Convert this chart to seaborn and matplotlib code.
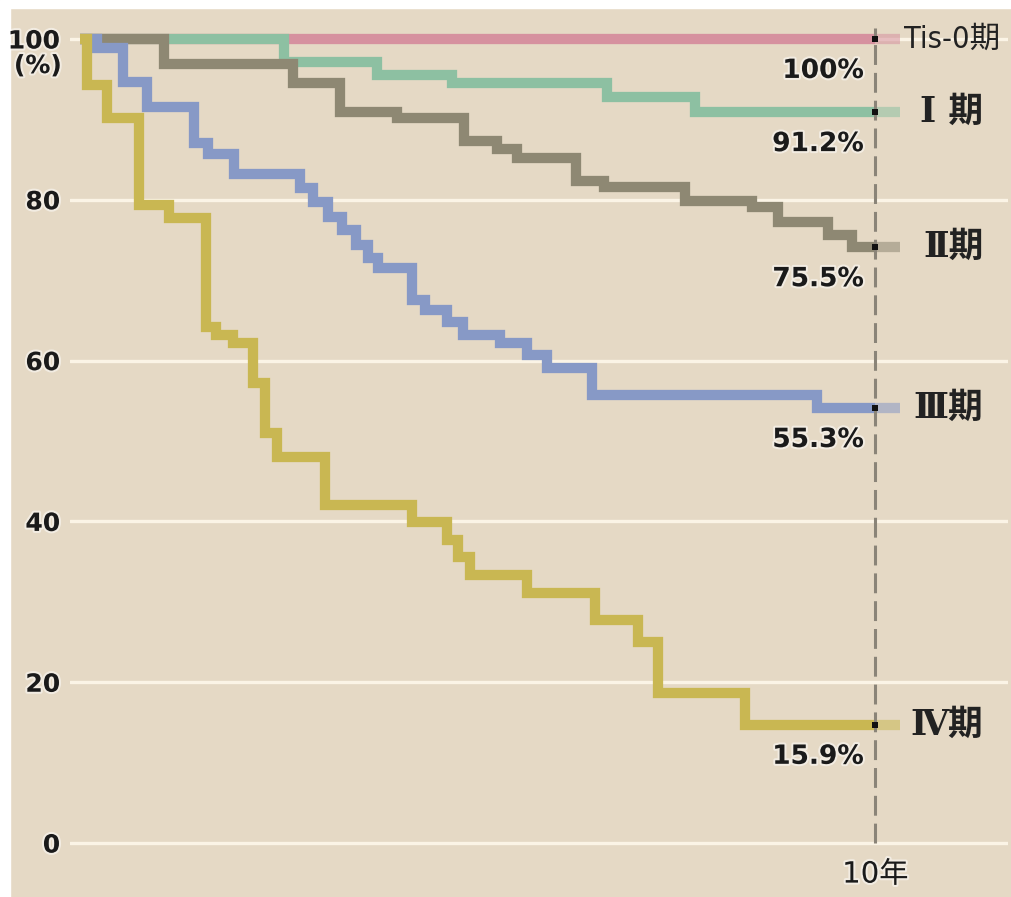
import pandas as pd
import matplotlib.pyplot as plt
import matplotlib.patheffects as pe
from matplotlib.patches import Rectangle
import seaborn as sns

# step survival curves: year of each drop, survival (%) after it
stages = ["Tis-0期", "Ⅰ 期", "Ⅱ期", "Ⅲ期", "Ⅳ期"]
pct_labels = ["100%", "91.2%", "75.5%", "55.3%", "15.9%"]

tis0_t = [0.0]
tis0_v = [100.0]
st1_t = [0.0, 2.57, 3.74, 4.68, 6.63, 7.74]
st1_v = [100.0, 97.1, 95.5, 94.5, 92.8, 90.9]
st2_t = [0.0, 1.06, 2.68, 3.27, 3.99, 4.83, 5.25, 5.50, 6.24, 6.59, 7.61, 8.45, 8.78, 9.41, 9.71]
st2_v = [100.0, 96.9, 94.5, 90.9, 90.2, 87.3, 86.3, 85.2, 82.3, 81.6, 79.9, 79.1, 77.2, 75.6, 74.1]
st3_t = [0.0, 0.21, 0.54, 0.84, 1.43, 1.61, 1.94, 2.77, 2.93, 3.12, 3.30, 3.47, 3.62, 3.75,
         4.18, 4.34, 4.62, 4.81, 5.28, 5.62, 5.87, 6.44, 9.27]
st3_v = [100.0, 98.9, 94.7, 91.5, 87.1, 85.7, 83.2, 81.5, 79.7, 77.9, 76.2, 74.4, 72.8, 71.5,
         67.5, 66.3, 64.8, 63.2, 62.2, 60.7, 59.1, 55.7, 54.1]
st4_t = [0.0, 0.09, 0.34, 0.74, 1.12, 1.58, 1.71, 1.92, 2.18, 2.33, 2.48, 3.08, 4.18,
         4.62, 4.75, 4.91, 5.62, 6.48, 7.02, 7.27, 8.36]
st4_v = [100.0, 94.3, 90.2, 79.4, 77.7, 64.2, 63.2, 62.2, 57.2, 51.0, 48.0, 42.0, 39.9,
         37.7, 35.6, 33.3, 31.1, 27.7, 25.0, 18.7, 14.7]

times = [tis0_t, st1_t, st2_t, st3_t, st4_t]
values = [tis0_v, st1_v, st2_v, st3_v, st4_v]
colors = ["#D6919F", "#8DC0A2", "#8E8873", "#8799C6", "#C9B752"]
t_mark = 10.0
t_end = 10.31

rows, tails, ends = [], [], []
for name, ts, vs in zip(stages, times, values):
    for t, v in zip(ts + [t_mark], vs + [vs[-1]]):
        rows.append({"t": t, "v": v, "stage": name})
    tails.append({"t": t_mark, "v": vs[-1], "stage": name})
    tails.append({"t": t_end, "v": vs[-1], "stage": name})
    ends.append({"t": t_mark, "v": vs[-1], "stage": name})
df = pd.DataFrame(rows)
df_tail = pd.DataFrame(tails)
df_end = pd.DataFrame(ends)

sns.set_style("white")
plt.rcParams['font.family'] = ['DejaVu Sans', 'Noto Sans CJK JP']

bg = "#E5D9C5"
ink = "#1a1a1a"
fig = plt.figure(figsize=(10.12, 8.97), dpi=100, facecolor=bg)
fig.add_artist(Rectangle((0, 1 - 8 / 897), 1, 8 / 897, transform=fig.transFigure, color="white", zorder=0))
fig.add_artist(Rectangle((0, 0), 10 / 1012, 1, transform=fig.transFigure, color="white", zorder=0))
ax = fig.add_axes([70 / 1012, 42 / 897, 938 / 1012, 835 / 897])
ax.set_facecolor(bg)
for s in ax.spines.values():
    s.set_visible(False)

pal = dict(zip(stages, colors))
sns.lineplot(data=df, x="t", y="v", hue="stage", hue_order=stages, palette=pal,
             drawstyle="steps-post", linewidth=7.4, estimator=None, sort=False,
             legend=False, ax=ax, solid_joinstyle="miter", solid_capstyle="butt")
sns.lineplot(data=df_tail, x="t", y="v", hue="stage", hue_order=stages, palette=pal,
             linewidth=7.4, alpha=0.55, estimator=None, sort=False, legend=False, ax=ax,
             solid_capstyle="butt")

ax.axvline(t_mark, ymin=0.014, ymax=0.99, color="#8A8478", lw=2.2, dashes=(6.5, 2.6), zorder=4)
sns.scatterplot(data=df_end, x="t", y="v", marker="s", s=22, color="#111111",
                edgecolor="none", ax=ax, zorder=6, legend=False)

ax.set_xlim(-0.126, 11.67)
ax.set_ylim(-1.49, 102.36)
ax.set_yticks([0, 20, 40, 60, 80, 100], ["0", "20", "40", "60", "80", "100"])
ax.set_xticks([t_mark], ["10年"])
ax.grid(axis="y", color="#FBF4E6", lw=2.4, zorder=0)
ax.grid(axis="x", visible=False)
ax.set_axisbelow(True)
ax.tick_params(axis="y", length=0, pad=7, labelsize=18)
ax.tick_params(axis="x", length=0, pad=4, labelsize=21)
halo = [pe.withStroke(linewidth=3, foreground="white", alpha=0.5)]
for lab in ax.get_yticklabels():
    lab.set_fontweight("bold")
    lab.set_color(ink)
    lab.set_path_effects(halo)
for lab in ax.get_xticklabels():
    lab.set_color(ink)
    lab.set_path_effects(halo)
ax.set_xlabel("")
ax.set_ylabel("")

ax.annotate("(%)", xy=(0, 100), xycoords=("axes fraction", "data"), xytext=(-6, -19.5),
            textcoords="offset points", ha="right", va="center", fontsize=18,
            fontweight="bold", color=ink, path_effects=halo)

for name, vs, pct in zip(stages, values, pct_labels):
    ax.annotate(pct, xy=(t_mark, vs[-1]), xytext=(-8, -23), textcoords="offset points",
                ha="right", va="center", fontsize=19, fontweight="bold", color=ink,
                path_effects=halo)
    if name.startswith("Tis"):
        ax.annotate(name, xy=(t_mark, vs[-1]), xytext=(21, 0), textcoords="offset points",
                    ha="left", va="center", fontsize=22, fontstretch="condensed",
                    color="#222222", family=["DejaVu Sans", "Noto Sans CJK JP"])
    else:
        ax.annotate(name, xy=(t_mark, vs[-1]), xytext=(78, 0), textcoords="offset points",
                    ha="right", va="center", fontsize=25, fontweight="bold",
                    color="#222222", family=["DejaVu Serif", "Noto Sans CJK JP"])

fig.savefig("out.png", dpi=100, facecolor=bg)
